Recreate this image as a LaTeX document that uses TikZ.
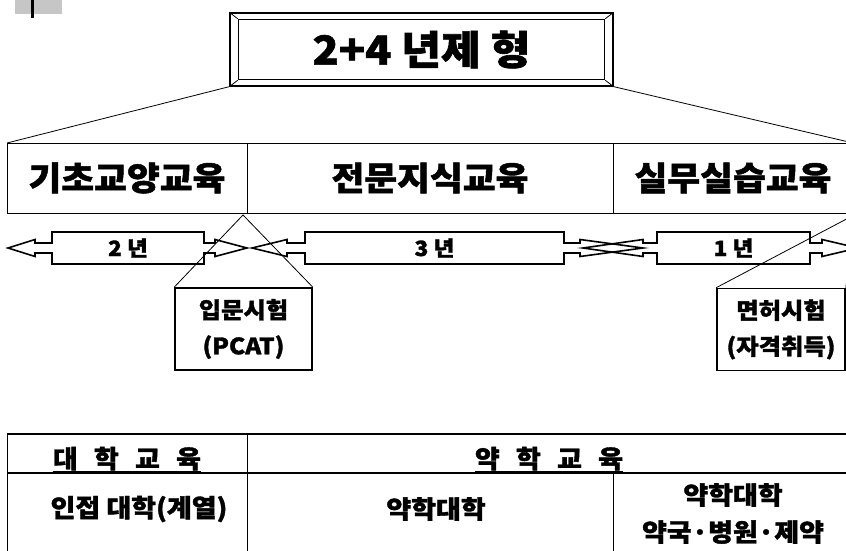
\documentclass[tikz,border=0pt]{standalone}
\usepackage{fontspec}
\setmainfont{Noto Sans CJK KR}[FakeStretch=1.08, BoldFeatures={FakeBold=1.5}]
\usetikzlibrary{positioning}
\tikzstyle{link} = [draw, black, line width=0.8pt]
\tikzstyle{title frame} = [rectangle, draw, black, line width=1.3pt, minimum width=383pt, minimum height=73pt]
\tikzstyle{title box} = [rectangle, draw, black, line width=1.6pt, minimum width=366pt, minimum height=60pt, font=\bfseries\fontsize{40}{44}\selectfont]
\tikzstyle{band cell} = [rectangle, draw, black, line width=0.8pt, minimum height=70pt, inner sep=0pt, outer sep=0pt, font=\bfseries\fontsize{33}{36}\selectfont]
\tikzstyle{year arrow} = [draw, black, line width=1.6pt, line join=miter]
\tikzstyle{year text} = [font=\bfseries\fontsize{21}{22}\selectfont]
\tikzstyle{exam box} = [rectangle, draw, black, line width=1.6pt, minimum height=82pt, align=center, font=\bfseries\fontsize{22.5}{36}\selectfont]
\tikzstyle{table text} = [inner sep=0pt, align=center, font=\bfseries\fontsize{25}{37}\selectfont]
\tikzstyle{table rule} = [draw, black, line width=0.9pt]

\begin{document}
\begin{tikzpicture}[x=1pt, y=-1pt]
  \useasboundingbox (0,0) rectangle (846,551);
  \clip (0,0) rectangle (846,551);
  % bullet mark
  \fill[gray!45] (15,0) rectangle (62,14);
  \fill[black] (31,0) rectangle (34,18);
  % title
  \node[title frame] (frame) at (421.5,49.5) {};
  \node[title box] (title) at (421.5,49.5) {2+4 년제 형};
  \foreach \corner in {north west, north east, south east, south west}
    \draw[link] (frame.\corner) -- (title.\corner);
  % three stages
  \node[band cell, minimum width=240pt] (basic) at (127,178) {기초교양교육};
  \node[band cell, minimum width=366pt] (special) [right=0pt of basic] {전문지식교육};
  \node[band cell, minimum width=240pt] (practice) [right=0pt of special] {실무실습교육};
  \draw[link] (frame.south west) -- (basic.north west);
  \draw[link] (frame.south east) -- (practice.north east);
  % years
  \foreach \name/\lt/\lb/\bl/\br/\rb/\rt/\years in {two/8/35/52/204/215/247/2 년, three/252/287/305/564/580/643/3 년, one/583/643/657/810/822/858/1 년} {
    \draw[year arrow] (\lt,248) -- (\lb,239.5) -- (\lb,243) -- (\bl,243) -- (\bl,232) -- (\br,232) -- (\br,243) -- (\rb,243) -- (\rb,239.5) -- (\rt,248)
      -- (\rb,256.5) -- (\rb,253) -- (\br,253) -- (\br,264) -- (\bl,264) -- (\bl,253) -- (\lb,253) -- (\lb,256.5) -- cycle;
    \node[year text] (\name\space years) at ({(\bl+\br)/2},248) {\years};
  }
  % exams
  \node[exam box, minimum width=137pt] (entrance) at (243.5,329) {입문시험\\(PCAT)};
  \node[exam box, minimum width=128pt] (license) at (781,329.5) {면허시험\\(자격취득)};
  \coordinate (entrance apex) at (243,215);
  \coordinate (license apex) at (856,214);
  \draw[link] (entrance.north west) -- (entrance apex) -- (entrance.north east);
  \draw[link] (license.north west) -- (license apex) -- (license.north east);
  % table
  \draw[table rule, line width=2pt] (7,434) -- (846,434);
  \draw[table rule, line width=2.5pt] (7,473) -- (846,473);
  \draw[table rule] (7,434) -- (7,551) (247,434) -- (247,551) (613,473) -- (613,551);
  \node[table text, anchor=base] (univ head) at (127,468) {대\hspace{0.65em}학\hspace{0.65em}교\hspace{0.65em}육};
  \node[table text, anchor=base] (pharm head) at (549,468) {약\hspace{0.65em}학\hspace{0.65em}교\hspace{0.65em}육};
  \draw[link, line width=1.4pt] ([yshift=-3.5pt]univ head.base west) -- ([yshift=-3.5pt]univ head.base east);
  \draw[link, line width=1.4pt] ([yshift=-3.5pt]pharm head.base west) -- ([yshift=-3.5pt]pharm head.base east);
  \node[table text] (adjacent) at (139,509) {인접 대학(계열)};
  \node[table text] (college) at (436,509) {약학대학};
  \node[table text] (site) at (733,513.5) {약학대학\\약국·병원·제약};
\end{tikzpicture}
\end{document}
